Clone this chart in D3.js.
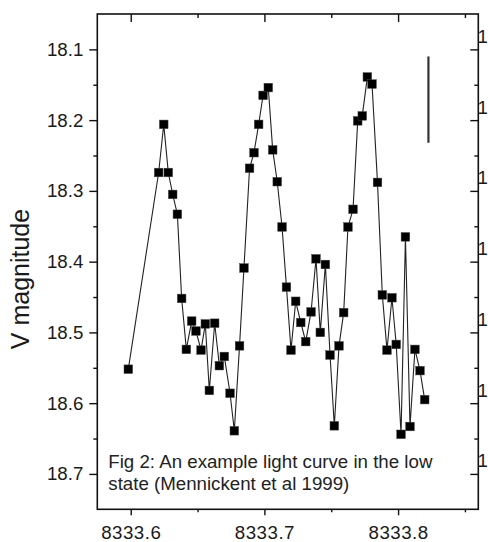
<!DOCTYPE html>
<html>
<head>
<meta charset="utf-8">
<script src="https://cdn.jsdelivr.net/npm/d3@7"></script>
<style>
  html, body { margin: 0; padding: 0; background: #fff; }
  svg { display: block; }
  text { font-family: "Liberation Sans", Arial, Helvetica, sans-serif; }
</style>
</head>
<body>
<svg id="chart" width="488" height="542"></svg>
<script>
// ---- data (HJD - 2440000, V magnitude) ----
const timeValues = [
  8333.5982, 8333.6209, 8333.6247, 8333.6281, 8333.6314, 8333.6349, 8333.6381, 8333.6416,
  8333.6456, 8333.6488, 8333.6526, 8333.6558, 8333.6588, 8333.6628, 8333.6663, 8333.6700,
  8333.6743, 8333.6775, 8333.6814, 8333.6847, 8333.6889, 8333.6922, 8333.6957, 8333.6990,
  8333.7029, 8333.7062, 8333.7096, 8333.7132, 8333.7165, 8333.7199, 8333.7234, 8333.7272,
  8333.7309, 8333.7349, 8333.7386, 8333.7418, 8333.7456, 8333.7491, 8333.7523, 8333.7558,
  8333.7593, 8333.7625, 8333.7663, 8333.7698, 8333.7732, 8333.7770, 8333.7805, 8333.7846,
  8333.7882, 8333.7917, 8333.7954, 8333.7986, 8333.8022, 8333.8055, 8333.8089, 8333.8126,
  8333.8164, 8333.8199
];
const magValues = [
  18.552, 18.274, 18.206, 18.274, 18.305, 18.333, 18.452, 18.524,
  18.484, 18.498, 18.525, 18.488, 18.582, 18.487, 18.547, 18.534,
  18.586, 18.639, 18.519, 18.409, 18.268, 18.246, 18.206, 18.165,
  18.154, 18.242, 18.287, 18.351, 18.436, 18.525, 18.456, 18.486,
  18.513, 18.471, 18.396, 18.500, 18.404, 18.532, 18.632, 18.519,
  18.472, 18.351, 18.326, 18.201, 18.194, 18.139, 18.149, 18.288,
  18.447, 18.525, 18.451, 18.517, 18.644, 18.365, 18.633, 18.524,
  18.554, 18.595
];
// typical error bar shown at upper right
const errorBarTime = [8333.8227];
const errorBarMag = [18.110, 18.232];

const xMajorTicks = [8333.6, 8333.7, 8333.8];
const xMinorTicks = [8333.65, 8333.75, 8333.85];
const xTickLabels = ["8333.6", "8333.7", "8333.8"];
const yMajorTicks = [18.1, 18.2, 18.3, 18.4, 18.5, 18.6, 18.7];
const yMinorTicks = [18.15, 18.25, 18.35, 18.45, 18.55, 18.65];
const yTickLabels = ["18.1", "18.2", "18.3", "18.4", "18.5", "18.6", "18.7"];
const rightTickLabels = ["1", "1", "1", "1", "1", "1", "1"];
const yTitle = "V magnitude";
const noteLines = ["Fig 2: An example light curve in the low", "state (Mennickent et al 1999)"];

// ---- layout ----
const mLeft = 97.3, mRight = 478.3, mTop = 14, mBottom = 509.3;
const FS = 18.7;
const svg = d3.select("#chart");

const x = d3.scaleLinear().domain([8333.575, 8333.86]).range([mLeft, mRight]);
const y = d3.scaleLinear().domain([18.05, 18.75]).range([mTop, mBottom]);

const axisColor = "#111";

function styleAxis(g) {
  g.select(".domain").remove();
  g.selectAll("line").attr("stroke", axisColor).attr("stroke-width", 1.4);
}

// left axis major + minor (outward)
svg.append("g").attr("transform", `translate(${mLeft},0)`)
  .call(d3.axisLeft(y).tickValues(yMajorTicks).tickSize(8).tickPadding(6)
        .tickFormat((d, i) => yTickLabels[i]))
  .call(styleAxis)
  .call(g => g.selectAll("text").attr("font-size", FS).attr("fill", "#1a1a1a")
        .attr("font-family", '"Liberation Sans", Arial, Helvetica, sans-serif'));
svg.append("g").attr("transform", `translate(${mLeft},0)`)
  .call(d3.axisLeft(y).tickValues(yMinorTicks).tickSize(4).tickFormat(""))
  .call(styleAxis);

// right axis (inward ticks); its labels sit right at the page edge
svg.append("g").attr("transform", `translate(${mRight},0)`)
  .call(d3.axisLeft(y).tickValues(yMajorTicks).tickSize(8).tickFormat(""))
  .call(styleAxis);
svg.append("g").attr("transform", `translate(${mRight},0)`)
  .call(d3.axisLeft(y).tickValues(yMinorTicks).tickSize(4).tickFormat(""))
  .call(styleAxis);
svg.append("g").selectAll("text").data(yMajorTicks).join("text")
  .attr("x", 477.6)
  .attr("y", d => y(d) - 13)
  .attr("dy", "0.35em")
  .attr("font-size", FS)
  .attr("fill", "#1a1a1a")
  .text((d, i) => rightTickLabels[i]);

// bottom axis (outward)
svg.append("g").attr("transform", `translate(0,${mBottom})`)
  .call(d3.axisBottom(x).tickValues(xMajorTicks).tickSize(6).tickPadding(10)
        .tickFormat((d, i) => xTickLabels[i]))
  .call(styleAxis)
  .call(g => g.selectAll("text").attr("font-size", FS).attr("fill", "#1a1a1a")
        .attr("font-family", '"Liberation Sans", Arial, Helvetica, sans-serif')
        .attr("letter-spacing", "0.5px"));
svg.append("g").attr("transform", `translate(0,${mBottom})`)
  .call(d3.axisBottom(x).tickValues(xMinorTicks).tickSize(3).tickFormat(""))
  .call(styleAxis);

// top axis (inward)
svg.append("g").attr("transform", `translate(0,${mTop})`)
  .call(d3.axisBottom(x).tickValues(xMajorTicks).tickSize(8).tickFormat(""))
  .call(styleAxis);
svg.append("g").attr("transform", `translate(0,${mTop})`)
  .call(d3.axisBottom(x).tickValues(xMinorTicks).tickSize(4).tickFormat(""))
  .call(styleAxis);

// frame
svg.append("rect")
  .attr("x", mLeft).attr("y", mTop)
  .attr("width", mRight - mLeft).attr("height", mBottom - mTop)
  .attr("fill", "none").attr("stroke", axisColor).attr("stroke-width", 1.6);

// y title
svg.append("text")
  .attr("transform", `translate(29,279) rotate(-90)`)
  .attr("text-anchor", "middle")
  .attr("font-size", 25)
  .attr("fill", "#1a1a1a")
  .text(yTitle);

// data line
const pts = timeValues.map((t, i) => [t, magValues[i]]);
svg.append("path")
  .datum(pts)
  .attr("fill", "none")
  .attr("stroke", "#222")
  .attr("stroke-width", 1.1)
  .attr("d", d3.line().x(d => x(d[0])).y(d => y(d[1])));

// markers
const ms = 8.6;
svg.append("g").selectAll("rect").data(pts).join("rect")
  .attr("x", d => x(d[0]) - ms / 2)
  .attr("y", d => y(d[1]) - ms / 2)
  .attr("width", ms).attr("height", ms)
  .attr("fill", "#000")
  .attr("stroke", "#444").attr("stroke-width", 0.5);

// error bar
svg.append("line")
  .attr("x1", x(errorBarTime[0])).attr("x2", x(errorBarTime[0]))
  .attr("y1", y(errorBarMag[0])).attr("y2", y(errorBarMag[1]))
  .attr("stroke", "#333").attr("stroke-width", 2.2);

// note
svg.append("g").selectAll("text").data(noteLines).join("text")
  .attr("x", 108.3)
  .attr("y", (d, i) => 468.3 + i * 21.7)
  .attr("font-size", FS)
  .attr("fill", "#222")
  .text(d => d);
</script>
</body>
</html>
